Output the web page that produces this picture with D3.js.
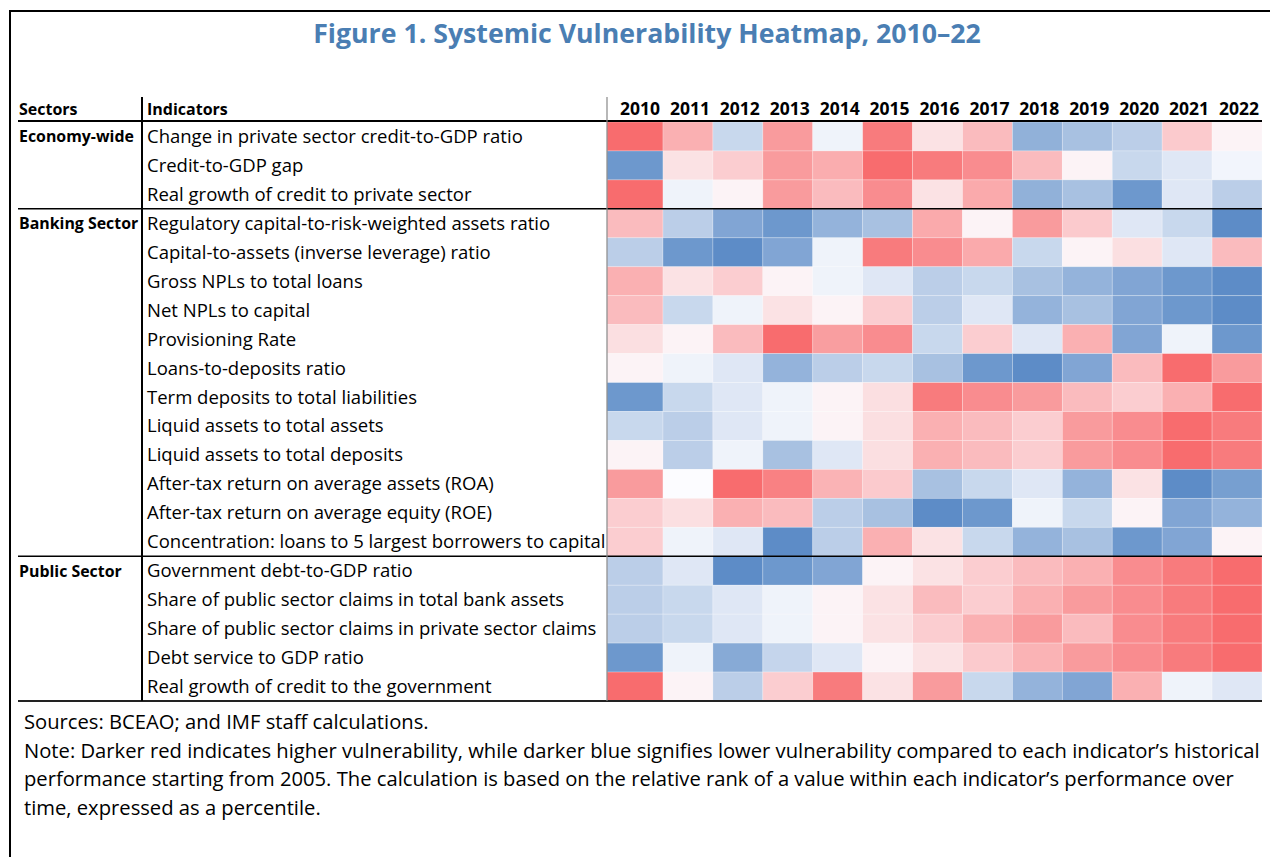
<!DOCTYPE html>
<html>
<head>
<meta charset="utf-8">
<script src="https://cdn.jsdelivr.net/npm/d3@7"></script>
<style>
  body { margin: 0; background: #fff; }
  svg { display: block; font-family: "Open Sans", "Noto Sans", sans-serif; }
</style>
</head>
<body>
<svg id="chart"></svg>
<script>
// years on the columns
var years = ["2010","2011","2012","2013","2014","2015","2016","2017","2018","2019","2020","2021","2022"];

// sectors and the indicators in each
var sectors = ["Economy-wide", "Banking Sector", "Public Sector"];
var indicators = [
  "Change in private sector credit-to-GDP ratio",
  "Credit-to-GDP gap",
  "Real growth of credit to private sector",
  "Regulatory capital-to-risk-weighted assets ratio",
  "Capital-to-assets (inverse leverage) ratio",
  "Gross NPLs to total loans",
  "Net NPLs to capital",
  "Provisioning Rate",
  "Loans-to-deposits ratio",
  "Term deposits to total liabilities",
  "Liquid assets to total assets",
  "Liquid assets to total deposits",
  "After-tax return on average assets (ROA)",
  "After-tax return on average equity (ROE)",
  "Concentration: loans to 5 largest borrowers to capital",
  "Government debt-to-GDP ratio",
  "Share of public sector claims in total bank assets",
  "Share of public sector claims in private sector claims",
  "Debt service to GDP ratio",
  "Real growth of credit to the government"
];
var indicatorSector = [0,0,0, 1,1,1,1,1,1,1,1,1,1,1,1, 2,2,2,2,2];

// percentile of each value (0 = lowest vulnerability, 100 = highest)
var percentiles = [
  [99,76,34,83,46,94,59,72,17,24,30,67,53],
  [ 6,59,66,83,77,99,94,88,72,53,34,41,47],
  [99,46,53,83,72,88,59,78,17,24, 6,41,30],
  [72,30,12, 6,18,24,78,53,83,67,41,34, 1],
  [30, 6, 1,12,46,94,88,78,34,53,60,41,72],
  [76,59,66,53,46,41,30,34,24,18,12, 6, 1],
  [72,34,46,59,53,66,30,41,18,24,12, 6, 1],
  [60,53,72,99,82,88,34,66,41,76,12,46, 6],
  [53,46,41,18,30,34,24, 6, 1,12,72,99,83],
  [ 6,34,41,46,53,60,94,88,83,72,66,76,99],
  [34,30,41,46,53,60,76,72,66,83,88,99,94],
  [53,30,46,24,41,60,76,72,66,83,88,99,94],
  [83,50,99,92,75,67,24,34,41,18,59, 1, 9],
  [66,60,76,72,30,24, 1, 6,46,34,53,12,18],
  [66,46,41, 1,30,76,59,34,18,24, 6,12,53],
  [30,41, 1, 6,12,53,59,66,72,76,88,94,99],
  [30,34,41,46,53,59,72,66,76,83,88,94,99],
  [30,34,41,46,53,59,66,76,83,72,88,94,99],
  [ 6,46,14,33,41,53,59,67,75,83,88,94,99],
  [99,53,30,66,94,59,83,34,18,12,76,46,41]
];

var title = "Figure 1. Systemic Vulnerability Heatmap, 2010\u201322";
var notes = [
  "Sources: BCEAO; and IMF staff calculations.",
  "Note: Darker red indicates higher vulnerability, while darker blue signifies lower vulnerability compared to each indicator\u2019s historical",
  "performance starting from 2005. The calculation is based on the relative rank of a value within each indicator\u2019s performance over",
  "time, expressed as a percentile."
];

var svgWidth = 1270, svgHeight = 857;
var svg = d3.select("#chart")
  .attr("width", svgWidth)
  .attr("height", svgHeight);

// layout of the table
var left = 18, right = 1262;
var sectorX = 19, indicatorX = 147, dividerX = 142;
var heatLeft = 607, firstColRight = 663;
var headerTop = 97, rowsTop = 122, rowH = 28.95;

// column edges: the first year column is a bit wider than the others
var colEdge = d3.scaleLinear().domain([0, 1, years.length]).range([heatLeft, firstColRight, right]);
var y = d3.scaleBand().domain(d3.range(indicators.length))
  .range([rowsTop, rowsTop + rowH * indicators.length]);

// Excel style red - white - blue scale
var color = d3.scaleLinear()
  .domain([0, 50, 100])
  .range(["#5A8AC6", "#FCFCFF", "#F8696B"]);

// frame: top and left edge
svg.append("line").attr("x1", 9).attr("x2", svgWidth).attr("y1", 11).attr("y2", 11)
  .attr("stroke", "#000").attr("stroke-width", 2);
svg.append("line").attr("x1", 10).attr("x2", 10).attr("y1", 10).attr("y2", svgHeight)
  .attr("stroke", "#000").attr("stroke-width", 2);

svg.append("text")
  .attr("x", 647).attr("y", 43)
  .attr("text-anchor", "middle")
  .attr("font-size", 26.7).attr("font-weight", 700)
  .attr("fill", "#4a7eb3")
  .text(title);

// heatmap cells
var cells = [];
percentiles.forEach(function(row, i) {
  row.forEach(function(v, j) { cells.push({ row: i, col: j, value: v }); });
});

svg.append("g").selectAll("rect")
  .data(cells)
  .enter().append("rect")
  .attr("x", function(d) { return colEdge(d.col); })
  .attr("y", function(d) { return y(d.row); })
  .attr("width", function(d) { return colEdge(d.col + 1) - colEdge(d.col); })
  .attr("height", y.bandwidth())
  .attr("fill", function(d) { return color(d.value); })
  .attr("stroke", "#ffffff")
  .attr("stroke-opacity", 0.3)
  .attr("stroke-width", 0.8);

// header
var header = svg.append("g").attr("font-weight", 700).attr("font-size", 16).attr("fill", "#000");
header.append("text").attr("x", sectorX).attr("y", 115).text("Sectors");
header.append("text").attr("x", indicatorX).attr("y", 115).text("Indicators");
header.selectAll(".yr")
  .data(years)
  .enter().append("text")
  .attr("class", "yr")
  .attr("x", function(d, i) { return colEdge(i + 1) - 3; })
  .attr("y", 115)
  .attr("text-anchor", "end")
  .attr("font-size", 17.5)
  .text(function(d) { return d; });

// indicator labels
svg.append("g").selectAll("text")
  .data(indicators)
  .enter().append("text")
  .attr("x", indicatorX)
  .attr("y", function(d, i) { return y(i) + rowH / 2 + 6.5; })
  .attr("font-size", 18.5)
  .attr("fill", "#000")
  .text(function(d) { return d; });

// sector labels, on the first row of each block
svg.append("g").selectAll("text")
  .data(sectors)
  .enter().append("text")
  .attr("x", sectorX)
  .attr("y", function(d, s) { return y(indicatorSector.indexOf(s)) + rowH / 2 + 6; })
  .attr("font-size", 15.9)
  .attr("font-weight", 700)
  .text(function(d) { return d; });

// rules
svg.append("line").attr("x1", left).attr("x2", right).attr("y1", rowsTop - 1).attr("y2", rowsTop - 1)
  .attr("stroke", "#000").attr("stroke-width", 2);
sectors.slice(1).forEach(function(s, k) {
  var yy = y(indicatorSector.indexOf(k + 1));
  svg.append("line").attr("x1", left).attr("x2", right).attr("y1", yy).attr("y2", yy)
    .attr("stroke", "#000").attr("stroke-width", 1.5);
});
var bottom = y(indicators.length - 1) + rowH;
svg.append("line").attr("x1", left).attr("x2", right).attr("y1", bottom).attr("y2", bottom)
  .attr("stroke", "#222").attr("stroke-width", 2);
svg.append("line").attr("x1", dividerX).attr("x2", dividerX).attr("y1", headerTop).attr("y2", bottom)
  .attr("stroke", "#000").attr("stroke-width", 2);
svg.append("line").attr("x1", heatLeft).attr("x2", heatLeft).attr("y1", headerTop).attr("y2", bottom)
  .attr("stroke", "#888").attr("stroke-width", 1.2);

// sources and note
svg.append("g").selectAll("text")
  .data(notes)
  .enter().append("text")
  .attr("x", 24)
  .attr("y", function(d, i) { return 729 + i * 28.7; })
  .attr("font-size", 20.2)
  .attr("fill", "#000")
  .text(function(d) { return d; });
</script>
</body>
</html>
